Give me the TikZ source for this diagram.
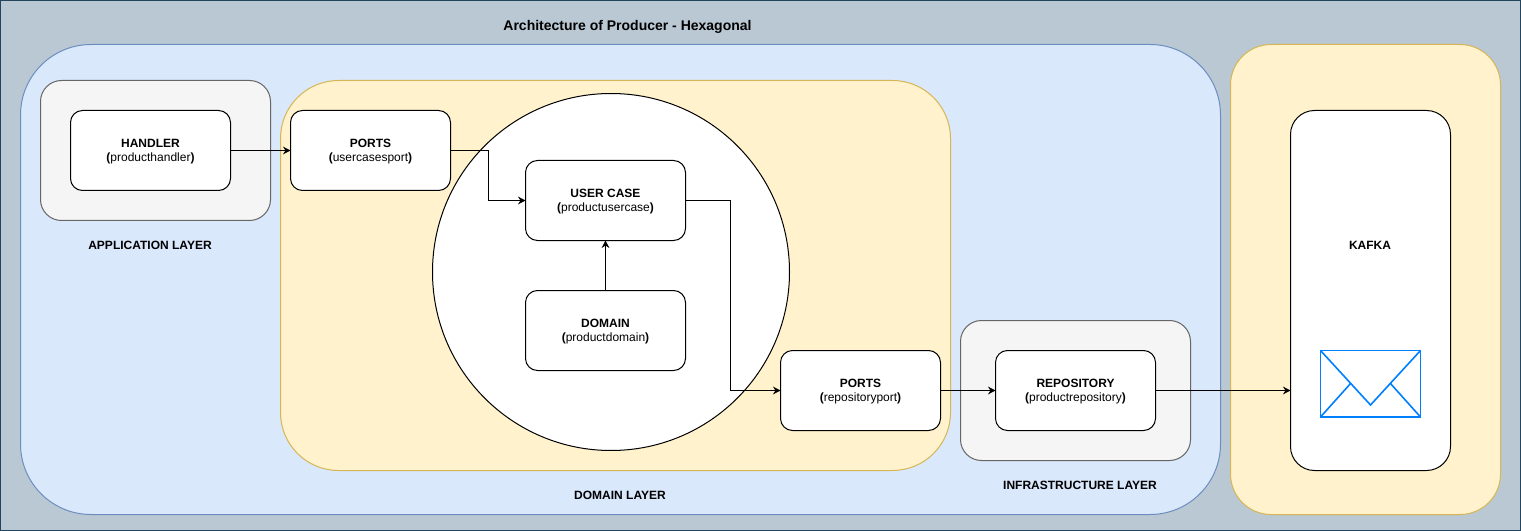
\documentclass[tikz,border=0pt]{standalone}
\usepackage{fontspec}
\setmainfont{Liberation Sans}
\usetikzlibrary{arrows.meta}
\definecolor{bgfill}{HTML}{BAC8D3}
\definecolor{bgline}{HTML}{23445D}
\definecolor{bluefill}{HTML}{DAE8FC}
\definecolor{blueline}{HTML}{6C8EBF}
\definecolor{yelfill}{HTML}{FFF2CC}
\definecolor{yelline}{HTML}{D6B656}
\definecolor{greyfill}{HTML}{F5F5F5}
\definecolor{greyline}{HTML}{666666}
\definecolor{mailblue}{HTML}{007FFF}
\newcommand\toppad{\rule{0pt}{8.1pt}}
\tikzset{
  every node/.style={outer sep=0pt,inner sep=0pt,font=\fontsize{9pt}{10.8pt}\selectfont},
  panel/.style={draw,line width=.75pt,rounded corners=#1},
  bluepanel/.style={panel=52.9pt,draw=blueline,fill=bluefill,minimum width=900pt,minimum height=352.5pt},
  yelbig/.style={panel=43.5pt,draw=yelline,fill=yelfill,minimum width=502.5pt,minimum height=292.5pt},
  yelside/.style={panel=30.4pt,draw=yelline,fill=yelfill,minimum width=202.5pt,minimum height=352.5pt},
  greypanel/.style={panel=15.75pt,draw=greyline,fill=greyfill,minimum width=172.5pt,minimum height=105pt},
  boxnode/.style={panel=9pt,draw=black,fill=white,minimum width=120pt,minimum height=60pt,align=center},
  kafkabox/.style={panel=18pt,draw=black,fill=white,minimum width=120pt,minimum height=270pt},
  hub/.style={circle,draw=black,fill=white,line width=.75pt,minimum size=267.75pt},
  caption/.style={font=\fontsize{9pt}{10.8pt}\selectfont\bfseries,align=center},
  conn/.style={draw=black,line width=.75pt,-{Stealth[length=5.6pt,width=5.8pt]}},
  mail/.style={draw=mailblue,line width=1.2pt,line join=miter}
}
\begin{document}
\begin{tikzpicture}[x=.75pt,y=-.75pt]
\useasboundingbox (0,0) rectangle (1521,531);
\node[draw=bgline,fill=bgfill,line width=.75pt,minimum width=1140pt,minimum height=397.5pt] (bg) at (760.5,265.5) {};
\node[caption,font=\fontsize{10.5pt}{12pt}\selectfont\bfseries] (title) at (627.5,27) {Architecture of Producer - Hexagonal};
\node[bluepanel] (blue) at (620.5,279.5) {};
\node[yelside] (yright) at (1365.5,279.5) {};
\node[greypanel] (gapp) at (155.5,150.5) {};
\node[yelbig] (ydom) at (615.5,275.5) {};
\node[greypanel] (ginf) at (1075.5,390.5) {};
\node[hub] (core) at (611,272) {};
\node[boxnode] (handler) at (150.5,150.5) {\toppad\textbf{HANDLER}\\\textbf{(}producthandler\textbf{)}};
\node[boxnode] (ports) at (370.5,150.5) {\toppad\textbf{PORTS}\\\textbf{(}usercasesport\textbf{)}};
\node[boxnode] (usercase) at (605.5,200.5) {\toppad\textbf{USER CASE}\\\textbf{(}productusercase\textbf{)}};
\node[boxnode] (domain) at (605.5,330.5) {\toppad\textbf{DOMAIN}\\\textbf{(}productdomain\textbf{)}};
\node[boxnode] (rport) at (860.5,390.5) {\toppad\textbf{PORTS}\\\textbf{(}repositoryport\textbf{)}};
\node[boxnode] (repo) at (1075.5,390.5) {\toppad\textbf{REPOSITORY}\\\textbf{(}productrepository\textbf{)}};
\node[kafkabox] (kafka) at (1370.5,290.5) {};
\node[caption] (lapp) at (150,245) {APPLICATION LAYER};
\node[caption] (ldom) at (620,495) {DOMAIN LAYER};
\node[caption] (linf) at (1080,485) {INFRASTRUCTURE LAYER};
\node[caption] (lkaf) at (1370,245) {KAFKA};
\draw[conn] (handler.east) -- (ports.west);
\draw[conn] (ports.east) -- (488.5,150.5) -- (488.5,200.5) -- (usercase.west);
\draw[conn] (domain.north) -- (usercase.south);
\draw[conn] (usercase.east) -- (730.5,200.5) -- (730.5,390.5) -- (rport.west);
\draw[conn] (rport.east) -- (repo.west);
\draw[conn] (repo.east) -- (repo.east -| kafka.west);
\draw[mail] (1320.5,350.5) rectangle (1420.5,417);
\draw[mail] (1320.5,350.5) -- (1370.5,405) -- (1420.5,350.5);
\draw[mail] (1320.5,417) -- (1351,383);
\draw[mail] (1420.5,417) -- (1390,383);
\end{tikzpicture}
\end{document}
